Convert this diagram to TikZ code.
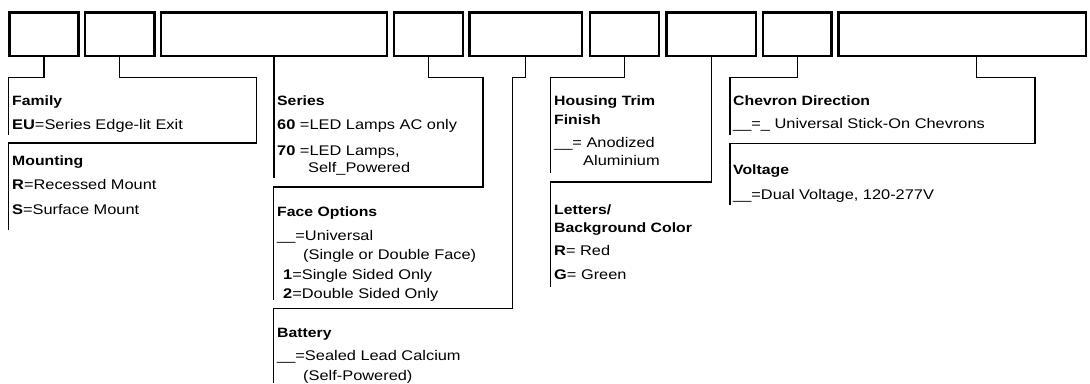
\documentclass[tikz,border=0pt]{standalone}
\usepackage{fontspec}
\setmainfont{Liberation Sans}[FakeStretch=1.17]
\begin{document}
\begin{tikzpicture}[x=1pt, y=-1pt, font=\fontsize{14}{16}\selectfont,
    code/.style={draw, line width=2.6pt, minimum height=43.5pt, inner sep=0pt},
    lead/.style={line width=1.2pt},
    hd/.style={anchor=base west, inner sep=0pt, font=\fontsize{13.5}{16}\selectfont\bfseries},
    ln/.style={anchor=base west, inner sep=0pt}]

\useasboundingbox (0,0) rectangle (1090,383);

% Code boxes (top row)
\node[code, minimum width=69pt]    (b1) at (44,    34.25) {};
\node[code, minimum width=69.5pt]  (b2) at (119.75,34.25) {};
\node[code, minimum width=226pt]   (b3) at (274,   34.25) {};
\node[code, minimum width=69pt]    (b4) at (428.5, 34.25) {};
\node[code, minimum width=112.5pt] (b5) at (525.75,34.25) {};
\node[code, minimum width=69pt]    (b6) at (624.5, 34.25) {};
\node[code, minimum width=89.5pt]  (b7) at (711.25,34.25) {};
\node[code, minimum width=68.5pt]  (b8) at (797.25,34.25) {};
\node[code, minimum width=247.5pt] (b9) at (962.25,34.25) {};

% Bend points and line ends
\coordinate (fam)   at (8.5,135);
\coordinate (mnt-c) at (256.5,143);
\coordinate (mnt)   at (8.5,230);
\coordinate (ser)   at (274,178);
\coordinate (fop-c) at (483,187);
\coordinate (fop)   at (273.5,300);
\coordinate (bat-c) at (512.5,308.5);
\coordinate (bat)   at (273.5,383);
\coordinate (hsg)   at (550.5,173);
\coordinate (let-c) at (711.25,182);
\coordinate (let)   at (550.5,287);
\coordinate (chv)   at (730,135);
\coordinate (vlt-c) at (1035,143.5);
\coordinate (vlt)   at (730,205);

% Leader lines
\draw[lead] (b1.south) -- ++(0,20.5) -| (fam);
\draw[lead] (b2.south) -- ++(0,20.5) -| (mnt-c) -| (mnt);
\draw[lead] (b3.south) -- (ser);
\draw[lead] (b4.south) -- ++(0,20.5) -| (fop-c) -| (fop);
\draw[lead] (b5.south) -- ++(0,20.5) -| (bat-c) -| (bat);
\draw[lead] (b6.south) -- ++(0,20.5) -| (hsg);
\draw[lead] (b7.south) -- (let-c) -| (let);
\draw[lead] (b8.south) -- ++(0,20.5) -| (chv);
\draw[lead] ([xshift=14pt]b9.south) -- ++(0,20.5) -| (vlt-c) -| (vlt);

% Family / Mounting
\node[hd] (fam-h) at (12,105) {Family};
\node[ln] (fam-1) at (12,129) {\textbf{EU}=Series Edge-lit Exit};
\node[hd] (mnt-h) at (12,165) {Mounting};
\node[ln] (mnt-1) at (12,189) {\textbf{R}=Recessed Mount};
\node[ln] (mnt-2) at (12,214) {\textbf{S}=Surface Mount};

% Series / Face Options / Battery
\node[hd] (ser-h) at (277,105) {Series};
\node[ln] (ser-1) at (277,129) {\textbf{60} =LED Lamps AC only};
\node[ln] (ser-2) at (277,155) {\textbf{70} =LED Lamps,};
\node[ln] (ser-3) at (308,172) {Self\_Powered};
\node[hd] (fop-h) at (277,216) {Face Options};
\node[ln] (fop-1) at (277,240) {\_\_=Universal};
\node[ln] (fop-2) at (303,259) {(Single or Double Face)};
\node[ln] (fop-3) at (283,279) {\textbf{1}=Single Sided Only};
\node[ln] (fop-4) at (283,298) {\textbf{2}=Double Sided Only};
\node[hd] (bat-h) at (277,337) {Battery};
\node[ln] (bat-1) at (277,360) {\_\_=Sealed Lead Calcium};
\node[ln] (bat-2) at (303,380) {(Self-Powered)};

% Housing Trim Finish / Letters
\node[hd] (hsg-h) at (554,105) {Housing Trim};
\node[hd] (hsg-i) at (554,124) {Finish};
\node[ln] (hsg-1) at (554,147) {\_\_= Anodized};
\node[ln] (hsg-2) at (583,165) {Aluminium};
\node[hd] (let-h) at (554,214) {Letters/};
\node[hd] (let-i) at (554,232) {Background Color};
\node[ln] (let-1) at (554,255) {\textbf{R}= Red};
\node[ln] (let-2) at (554,279) {\textbf{G}= Green};

% Chevron Direction / Voltage
\node[hd] (chv-h) at (733,105) {Chevron Direction};
\node[ln] (chv-1) at (733,128) {\_\_=\_ Universal Stick-On Chevrons};
\node[hd] (vlt-h) at (733,174) {Voltage};
\node[ln] (vlt-1) at (733,199) {\_\_=Dual Voltage, 120-277V};

\end{tikzpicture}
\end{document}
